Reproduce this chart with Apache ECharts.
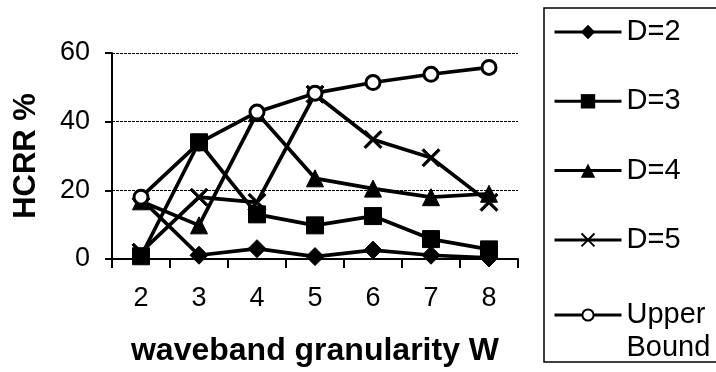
<!DOCTYPE html>
<html><head><meta charset="utf-8">
<script src="https://cdn.jsdelivr.net/npm/echarts@6/dist/echarts.min.js"></script>
<style>html,body{margin:0;padding:0;background:#fff}#c{width:716px;height:372px}</style>
</head><body><div id="c"></div>
<script>
var categories = ['2','3','4','5','6','7','8'];
var d2 = [17.5, 1.1, 3.0, 0.7, 2.6, 1.1, 0.3];
var d3 = [0.8, 34, 13, 9.8, 12.5, 5.8, 2.8];
var d4 = [16.8, 9.8, 42.5, 23.5, 20.5, 18, 19];
var d5 = [2, 18, 16.5, 48, 34.8, 29.5, 16.5];
var upper = [18, 33.8, 42.8, 48.3, 51.4, 53.8, 55.8];
var yTicks = [0, 20, 40, 60];

var FONT = "'Liberation Sans', Arial, sans-serif";
var crossPath = 'path://M0,1 L1,0 L5,4 L9,0 L10,1 L6,5 L10,9 L9,10 L5,6 L1,10 L0,9 L4,5 Z';

function mk(name, data, symbol, size, extra) {
  var s = {
    name: name, type: 'line', data: data, symbol: symbol, symbolSize: size,
    lineStyle: {color: '#000', width: 3.7},
    itemStyle: {color: '#000', borderColor: '#000'},
    showAllSymbol: true, animation: false
  };
  if (extra) for (var k in extra) s[k] = extra[k];
  return s;
}

var chart = echarts.init(document.getElementById('c'));
chart.setOption({
  backgroundColor: '#fff',
  animation: false,
  grid: {left: 112, right: 198, top: 53, bottom: 111.5},
  xAxis: {
    type: 'category', data: categories, boundaryGap: true,
    name: 'waveband granularity W', nameLocation: 'middle', nameGap: 76,
    nameTextStyle: {fontFamily: FONT, fontSize: 32, fontWeight: 'bold', color: '#000'},
    axisLine: {lineStyle: {color: '#000', width: 2}},
    axisTick: {show: true, length: 9, lineStyle: {color: '#000', width: 2}, alignWithLabel: false},
    axisLabel: {fontFamily: FONT, fontSize: 27, color: '#000', margin: 26}
  },
  yAxis: {
    type: 'value', min: yTicks[0], max: yTicks[yTicks.length-1], interval: 20,
    name: 'HCRR %', nameLocation: 'middle', nameGap: 70,
    nameTextStyle: {fontFamily: FONT, fontSize: 31, fontWeight: 'bold', color: '#000'},
    axisLine: {show: true, lineStyle: {color: '#000', width: 2}},
    axisTick: {show: true, length: 7, lineStyle: {color: '#000', width: 2}},
    axisLabel: {fontFamily: FONT, fontSize: 27, color: '#000', margin: 22},
    splitLine: {show: true, lineStyle: {color: '#000', width: 1, type: [3, 1]}}
  },
  legend: [{
    orient: 'vertical', left: 553, top: 17, padding: 0, itemGap: 39.3,
    itemWidth: 67, itemHeight: 18,
    lineStyle: {width: 3},
    data: ['D=2', 'D=3', 'D=4', 'D=5'],
    textStyle: {fontFamily: FONT, fontSize: 29, color: '#000', lineHeight: 30}
  }, {
    orient: 'vertical', left: 553, top: 265.5, padding: 0,
    itemWidth: 67, itemHeight: 14,
    lineStyle: {width: 3},
    itemStyle: {borderWidth: 2},
    data: ['Upper Bound'],
    formatter: function () { return '\nUpper\nBound'; },
    textStyle: {fontFamily: FONT, fontSize: 29, color: '#000', lineHeight: 33}
  }],
  graphic: [{
    type: 'rect', shape: {x: 544, y: 8, width: 200, height: 354},
    style: {fill: 'none', stroke: '#000', lineWidth: 1.5}, silent: true, z: -1
  }],
  series: [
    mk('D=2', d2, 'diamond', [18, 18]),
    mk('D=4', d4, 'triangle', 17),
    mk('D=5', d5, crossPath, 18),
    mk('Upper Bound', upper, 'circle', 14, {itemStyle: {color: '#fff', borderColor: '#000', borderWidth: 3}}),
    mk('D=3', d3, 'rect', 17)
  ]
});
</script>
</body></html>
